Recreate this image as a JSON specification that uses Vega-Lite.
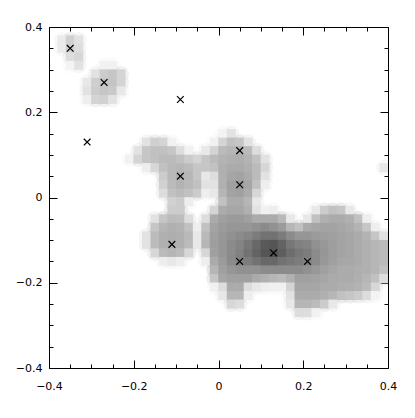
{
"$schema": "https://vega.github.io/schema/vega-lite/v6.json",
"width": 339, "height": 341,
"autosize": {"type": "none"},
"padding": {"left": 49, "top": 27, "right": 27, "bottom": 50},
"config": {
 "view": {"stroke": "#000", "strokeWidth": 1},
 "axis": {"domain": false, "grid": false, "title": null, "labelFont": "DejaVu Sans", "labelFontSize": 11, "labelColor": "#000", "tickColor": "#000", "tickWidth": 1, "labelFlush": false, "labelOverlap": false}
},
"datasets": {
 "density": [
{"x":-0.37,"y":0.37,"d":0.07},{"x":-0.35,"y":0.37,"d":0.16},{"x":-0.33,"y":0.37,"d":0.1},
{"x":-0.37,"y":0.35,"d":0.07},{"x":-0.35,"y":0.35,"d":0.17},{"x":-0.33,"y":0.35,"d":0.12},
{"x":-0.35,"y":0.33,"d":0.12},{"x":-0.33,"y":0.33,"d":0.14},
{"x":-0.35,"y":0.31,"d":0.04},{"x":-0.33,"y":0.31,"d":0.1},
{"x":-0.27,"y":0.31,"d":0.05},{"x":-0.25,"y":0.31,"d":0.05},
{"x":-0.29,"y":0.29,"d":0.1},{"x":-0.27,"y":0.29,"d":0.18},{"x":-0.25,"y":0.29,"d":0.2},{"x":-0.23,"y":0.29,"d":0.15},
{"x":-0.31,"y":0.27,"d":0.08},{"x":-0.29,"y":0.27,"d":0.17},{"x":-0.27,"y":0.27,"d":0.21},{"x":-0.25,"y":0.27,"d":0.21},{"x":-0.23,"y":0.27,"d":0.15},
{"x":-0.31,"y":0.25,"d":0.1},{"x":-0.29,"y":0.25,"d":0.18},{"x":-0.27,"y":0.25,"d":0.2},{"x":-0.25,"y":0.25,"d":0.19},{"x":-0.23,"y":0.25,"d":0.08},
{"x":-0.31,"y":0.23,"d":0.06},{"x":-0.29,"y":0.23,"d":0.15},{"x":-0.27,"y":0.23,"d":0.16},{"x":-0.25,"y":0.23,"d":0.1},
{"x":-0.17,"y":0.13,"d":0.1},{"x":-0.15,"y":0.13,"d":0.17},{"x":-0.13,"y":0.13,"d":0.15},{"x":-0.11,"y":0.13,"d":0.05},
{"x":-0.19,"y":0.11,"d":0.1},{"x":-0.17,"y":0.11,"d":0.2},{"x":-0.15,"y":0.11,"d":0.22},{"x":-0.13,"y":0.11,"d":0.22},{"x":-0.11,"y":0.11,"d":0.2},{"x":-0.09,"y":0.11,"d":0.12},{"x":-0.07,"y":0.11,"d":0.05},
{"x":-0.21,"y":0.09,"d":0.05},{"x":-0.19,"y":0.09,"d":0.15},{"x":-0.17,"y":0.09,"d":0.2},{"x":-0.15,"y":0.09,"d":0.22},{"x":-0.13,"y":0.09,"d":0.24},{"x":-0.11,"y":0.09,"d":0.24},{"x":-0.09,"y":0.09,"d":0.22},{"x":-0.07,"y":0.09,"d":0.18},{"x":-0.05,"y":0.09,"d":0.15},{"x":-0.03,"y":0.09,"d":0.2},
{"x":-0.17,"y":0.07,"d":0.06},{"x":-0.15,"y":0.07,"d":0.14},{"x":-0.13,"y":0.07,"d":0.22},{"x":-0.11,"y":0.07,"d":0.25},{"x":-0.09,"y":0.07,"d":0.26},{"x":-0.07,"y":0.07,"d":0.24},{"x":-0.05,"y":0.07,"d":0.2},{"x":-0.03,"y":0.07,"d":0.2},
{"x":-0.13,"y":0.05,"d":0.18},{"x":-0.11,"y":0.05,"d":0.25},{"x":-0.09,"y":0.05,"d":0.28},{"x":-0.07,"y":0.05,"d":0.26},{"x":-0.05,"y":0.05,"d":0.2},{"x":-0.03,"y":0.05,"d":0.08},
{"x":-0.13,"y":0.03,"d":0.16},{"x":-0.11,"y":0.03,"d":0.24},{"x":-0.09,"y":0.03,"d":0.27},{"x":-0.07,"y":0.03,"d":0.25},{"x":-0.05,"y":0.03,"d":0.22},{"x":-0.03,"y":0.03,"d":0.1},
{"x":-0.13,"y":0.01,"d":0.12},{"x":-0.11,"y":0.01,"d":0.22},{"x":-0.09,"y":0.01,"d":0.24},{"x":-0.07,"y":0.01,"d":0.22},{"x":-0.05,"y":0.01,"d":0.18},{"x":-0.03,"y":0.01,"d":0.06},
{"x":-0.11,"y":-0.01,"d":0.16},{"x":-0.09,"y":-0.01,"d":0.18},{"x":-0.07,"y":-0.01,"d":0.06},
{"x":-0.11,"y":-0.03,"d":0.18},{"x":-0.09,"y":-0.03,"d":0.18},
{"x":-0.15,"y":-0.05,"d":0.1},{"x":-0.13,"y":-0.05,"d":0.2},{"x":-0.11,"y":-0.05,"d":0.24},{"x":-0.09,"y":-0.05,"d":0.23},{"x":-0.07,"y":-0.05,"d":0.12},
{"x":-0.15,"y":-0.07,"d":0.2},{"x":-0.13,"y":-0.07,"d":0.26},{"x":-0.11,"y":-0.07,"d":0.28},{"x":-0.09,"y":-0.07,"d":0.27},{"x":-0.07,"y":-0.07,"d":0.22},{"x":-0.05,"y":-0.07,"d":0.06},
{"x":-0.17,"y":-0.09,"d":0.1},{"x":-0.15,"y":-0.09,"d":0.24},{"x":-0.13,"y":-0.09,"d":0.28},{"x":-0.11,"y":-0.09,"d":0.29},{"x":-0.09,"y":-0.09,"d":0.28},{"x":-0.07,"y":-0.09,"d":0.25},{"x":-0.05,"y":-0.09,"d":0.08},
{"x":-0.17,"y":-0.11,"d":0.1},{"x":-0.15,"y":-0.11,"d":0.24},{"x":-0.13,"y":-0.11,"d":0.28},{"x":-0.11,"y":-0.11,"d":0.29},{"x":-0.09,"y":-0.11,"d":0.28},{"x":-0.07,"y":-0.11,"d":0.24},{"x":-0.05,"y":-0.11,"d":0.08},
{"x":-0.15,"y":-0.13,"d":0.14},{"x":-0.13,"y":-0.13,"d":0.24},{"x":-0.11,"y":-0.13,"d":0.26},{"x":-0.09,"y":-0.13,"d":0.24},{"x":-0.07,"y":-0.13,"d":0.14},
{"x":-0.13,"y":-0.15,"d":0.06},{"x":-0.11,"y":-0.15,"d":0.08},{"x":-0.09,"y":-0.15,"d":0.06},
{"x":0.01,"y":0.15,"d":0.04},{"x":0.03,"y":0.15,"d":0.1},
{"x":-0.01,"y":0.13,"d":0.05},{"x":0.01,"y":0.13,"d":0.15},{"x":0.03,"y":0.13,"d":0.22},{"x":0.05,"y":0.13,"d":0.2},{"x":0.07,"y":0.13,"d":0.1},
{"x":-0.03,"y":0.11,"d":0.08},{"x":-0.01,"y":0.11,"d":0.15},{"x":0.01,"y":0.11,"d":0.24},{"x":0.03,"y":0.11,"d":0.26},{"x":0.05,"y":0.11,"d":0.27},{"x":0.07,"y":0.11,"d":0.24},{"x":0.09,"y":0.11,"d":0.12},
{"x":-0.01,"y":0.09,"d":0.24},{"x":0.01,"y":0.09,"d":0.27},{"x":0.03,"y":0.09,"d":0.28},{"x":0.05,"y":0.09,"d":0.29},{"x":0.07,"y":0.09,"d":0.27},{"x":0.09,"y":0.09,"d":0.22},{"x":0.11,"y":0.09,"d":0.1},
{"x":-0.01,"y":0.07,"d":0.22},{"x":0.01,"y":0.07,"d":0.28},{"x":0.03,"y":0.07,"d":0.3},{"x":0.05,"y":0.07,"d":0.3},{"x":0.07,"y":0.07,"d":0.28},{"x":0.09,"y":0.07,"d":0.24},{"x":0.11,"y":0.07,"d":0.14},
{"x":-0.01,"y":0.05,"d":0.12},{"x":0.01,"y":0.05,"d":0.28},{"x":0.03,"y":0.05,"d":0.32},{"x":0.05,"y":0.05,"d":0.33},{"x":0.07,"y":0.05,"d":0.3},{"x":0.09,"y":0.05,"d":0.24},{"x":0.11,"y":0.05,"d":0.1},
{"x":-0.01,"y":0.03,"d":0.1},{"x":0.01,"y":0.03,"d":0.28},{"x":0.03,"y":0.03,"d":0.34},{"x":0.05,"y":0.03,"d":0.36},{"x":0.07,"y":0.03,"d":0.32},{"x":0.09,"y":0.03,"d":0.22},{"x":0.11,"y":0.03,"d":0.06},
{"x":-0.01,"y":0.01,"d":0.08},{"x":0.01,"y":0.01,"d":0.26},{"x":0.03,"y":0.01,"d":0.33},{"x":0.05,"y":0.01,"d":0.34},{"x":0.07,"y":0.01,"d":0.3},{"x":0.09,"y":0.01,"d":0.14},
{"x":0.01,"y":-0.01,"d":0.22},{"x":0.03,"y":-0.01,"d":0.3},{"x":0.05,"y":-0.01,"d":0.3},{"x":0.07,"y":-0.01,"d":0.26},{"x":0.09,"y":-0.01,"d":0.08},
{"x":-0.01,"y":-0.03,"d":0.15},{"x":0.01,"y":-0.03,"d":0.3},{"x":0.03,"y":-0.03,"d":0.32},{"x":0.05,"y":-0.03,"d":0.32},{"x":0.07,"y":-0.03,"d":0.28},{"x":0.09,"y":-0.03,"d":0.1},{"x":0.11,"y":-0.03,"d":0.05},{"x":0.13,"y":-0.03,"d":0.06},{"x":0.23,"y":-0.03,"d":0.08},{"x":0.25,"y":-0.03,"d":0.18},{"x":0.27,"y":-0.03,"d":0.22},{"x":0.29,"y":-0.03,"d":0.2},{"x":0.31,"y":-0.03,"d":0.08},
{"x":-0.03,"y":-0.05,"d":0.12},{"x":-0.01,"y":-0.05,"d":0.3},{"x":0.01,"y":-0.05,"d":0.34},{"x":0.03,"y":-0.05,"d":0.36},{"x":0.05,"y":-0.05,"d":0.36},{"x":0.07,"y":-0.05,"d":0.34},{"x":0.09,"y":-0.05,"d":0.3},{"x":0.11,"y":-0.05,"d":0.3},{"x":0.13,"y":-0.05,"d":0.3},{"x":0.15,"y":-0.05,"d":0.25},{"x":0.17,"y":-0.05,"d":0.08},{"x":0.21,"y":-0.05,"d":0.08},{"x":0.23,"y":-0.05,"d":0.22},{"x":0.25,"y":-0.05,"d":0.28},{"x":0.27,"y":-0.05,"d":0.3},{"x":0.29,"y":-0.05,"d":0.3},{"x":0.31,"y":-0.05,"d":0.28},{"x":0.33,"y":-0.05,"d":0.22},{"x":0.35,"y":-0.05,"d":0.06},
{"x":-0.03,"y":-0.07,"d":0.22},{"x":-0.01,"y":-0.07,"d":0.33},{"x":0.01,"y":-0.07,"d":0.36},{"x":0.03,"y":-0.07,"d":0.38},{"x":0.05,"y":-0.07,"d":0.38},{"x":0.07,"y":-0.07,"d":0.38},{"x":0.09,"y":-0.07,"d":0.4},{"x":0.11,"y":-0.07,"d":0.42},{"x":0.13,"y":-0.07,"d":0.4},{"x":0.15,"y":-0.07,"d":0.36},{"x":0.17,"y":-0.07,"d":0.26},{"x":0.19,"y":-0.07,"d":0.22},{"x":0.21,"y":-0.07,"d":0.3},{"x":0.23,"y":-0.07,"d":0.32},{"x":0.25,"y":-0.07,"d":0.33},{"x":0.27,"y":-0.07,"d":0.33},{"x":0.29,"y":-0.07,"d":0.32},{"x":0.31,"y":-0.07,"d":0.3},{"x":0.33,"y":-0.07,"d":0.27},{"x":0.35,"y":-0.07,"d":0.2},{"x":0.37,"y":-0.07,"d":0.06},
{"x":-0.03,"y":-0.09,"d":0.25},{"x":-0.01,"y":-0.09,"d":0.34},{"x":0.01,"y":-0.09,"d":0.37},{"x":0.03,"y":-0.09,"d":0.4},{"x":0.05,"y":-0.09,"d":0.42},{"x":0.07,"y":-0.09,"d":0.44},{"x":0.09,"y":-0.09,"d":0.48},{"x":0.11,"y":-0.09,"d":0.52},{"x":0.13,"y":-0.09,"d":0.52},{"x":0.15,"y":-0.09,"d":0.48},{"x":0.17,"y":-0.09,"d":0.42},{"x":0.19,"y":-0.09,"d":0.38},{"x":0.21,"y":-0.09,"d":0.38},{"x":0.23,"y":-0.09,"d":0.36},{"x":0.25,"y":-0.09,"d":0.35},{"x":0.27,"y":-0.09,"d":0.34},{"x":0.29,"y":-0.09,"d":0.33},{"x":0.31,"y":-0.09,"d":0.32},{"x":0.33,"y":-0.09,"d":0.3},{"x":0.35,"y":-0.09,"d":0.27},{"x":0.37,"y":-0.09,"d":0.2},{"x":0.39,"y":-0.09,"d":0.1},
{"x":-0.03,"y":-0.11,"d":0.26},{"x":-0.01,"y":-0.11,"d":0.35},{"x":0.01,"y":-0.11,"d":0.38},{"x":0.03,"y":-0.11,"d":0.42},{"x":0.05,"y":-0.11,"d":0.45},{"x":0.07,"y":-0.11,"d":0.5},{"x":0.09,"y":-0.11,"d":0.56},{"x":0.11,"y":-0.11,"d":0.62},{"x":0.13,"y":-0.11,"d":0.64},{"x":0.15,"y":-0.11,"d":0.58},{"x":0.17,"y":-0.11,"d":0.5},{"x":0.19,"y":-0.11,"d":0.46},{"x":0.21,"y":-0.11,"d":0.45},{"x":0.23,"y":-0.11,"d":0.4},{"x":0.25,"y":-0.11,"d":0.37},{"x":0.27,"y":-0.11,"d":0.35},{"x":0.29,"y":-0.11,"d":0.33},{"x":0.31,"y":-0.11,"d":0.32},{"x":0.33,"y":-0.11,"d":0.3},{"x":0.35,"y":-0.11,"d":0.28},{"x":0.37,"y":-0.11,"d":0.26},{"x":0.39,"y":-0.11,"d":0.24},
{"x":-0.03,"y":-0.13,"d":0.14},{"x":-0.01,"y":-0.13,"d":0.34},{"x":0.01,"y":-0.13,"d":0.38},{"x":0.03,"y":-0.13,"d":0.42},{"x":0.05,"y":-0.13,"d":0.46},{"x":0.07,"y":-0.13,"d":0.52},{"x":0.09,"y":-0.13,"d":0.58},{"x":0.11,"y":-0.13,"d":0.64},{"x":0.13,"y":-0.13,"d":0.66},{"x":0.15,"y":-0.13,"d":0.6},{"x":0.17,"y":-0.13,"d":0.54},{"x":0.19,"y":-0.13,"d":0.5},{"x":0.21,"y":-0.13,"d":0.48},{"x":0.23,"y":-0.13,"d":0.42},{"x":0.25,"y":-0.13,"d":0.38},{"x":0.27,"y":-0.13,"d":0.35},{"x":0.29,"y":-0.13,"d":0.33},{"x":0.31,"y":-0.13,"d":0.32},{"x":0.33,"y":-0.13,"d":0.3},{"x":0.35,"y":-0.13,"d":0.28},{"x":0.37,"y":-0.13,"d":0.26},{"x":0.39,"y":-0.13,"d":0.24},
{"x":-0.03,"y":-0.15,"d":0.06},{"x":-0.01,"y":-0.15,"d":0.3},{"x":0.01,"y":-0.15,"d":0.36},{"x":0.03,"y":-0.15,"d":0.42},{"x":0.05,"y":-0.15,"d":0.46},{"x":0.07,"y":-0.15,"d":0.48},{"x":0.09,"y":-0.15,"d":0.52},{"x":0.11,"y":-0.15,"d":0.56},{"x":0.13,"y":-0.15,"d":0.56},{"x":0.15,"y":-0.15,"d":0.52},{"x":0.17,"y":-0.15,"d":0.5},{"x":0.19,"y":-0.15,"d":0.48},{"x":0.21,"y":-0.15,"d":0.46},{"x":0.23,"y":-0.15,"d":0.42},{"x":0.25,"y":-0.15,"d":0.37},{"x":0.27,"y":-0.15,"d":0.34},{"x":0.29,"y":-0.15,"d":0.32},{"x":0.31,"y":-0.15,"d":0.31},{"x":0.33,"y":-0.15,"d":0.3},{"x":0.35,"y":-0.15,"d":0.28},{"x":0.37,"y":-0.15,"d":0.26},{"x":0.39,"y":-0.15,"d":0.24},
{"x":-0.01,"y":-0.17,"d":0.26},{"x":0.01,"y":-0.17,"d":0.34},{"x":0.03,"y":-0.17,"d":0.38},{"x":0.05,"y":-0.17,"d":0.4},{"x":0.07,"y":-0.17,"d":0.4},{"x":0.09,"y":-0.17,"d":0.4},{"x":0.11,"y":-0.17,"d":0.42},{"x":0.13,"y":-0.17,"d":0.42},{"x":0.15,"y":-0.17,"d":0.42},{"x":0.17,"y":-0.17,"d":0.42},{"x":0.19,"y":-0.17,"d":0.42},{"x":0.21,"y":-0.17,"d":0.4},{"x":0.23,"y":-0.17,"d":0.37},{"x":0.25,"y":-0.17,"d":0.34},{"x":0.27,"y":-0.17,"d":0.32},{"x":0.29,"y":-0.17,"d":0.3},{"x":0.31,"y":-0.17,"d":0.3},{"x":0.33,"y":-0.17,"d":0.29},{"x":0.35,"y":-0.17,"d":0.28},{"x":0.37,"y":-0.17,"d":0.26},{"x":0.39,"y":-0.17,"d":0.22},
{"x":-0.01,"y":-0.19,"d":0.2},{"x":0.01,"y":-0.19,"d":0.32},{"x":0.03,"y":-0.19,"d":0.34},{"x":0.05,"y":-0.19,"d":0.34},{"x":0.07,"y":-0.19,"d":0.34},{"x":0.09,"y":-0.19,"d":0.3},{"x":0.11,"y":-0.19,"d":0.28},{"x":0.13,"y":-0.19,"d":0.26},{"x":0.15,"y":-0.19,"d":0.24},{"x":0.17,"y":-0.19,"d":0.28},{"x":0.19,"y":-0.19,"d":0.34},{"x":0.21,"y":-0.19,"d":0.34},{"x":0.23,"y":-0.19,"d":0.33},{"x":0.25,"y":-0.19,"d":0.32},{"x":0.27,"y":-0.19,"d":0.3},{"x":0.29,"y":-0.19,"d":0.3},{"x":0.31,"y":-0.19,"d":0.3},{"x":0.33,"y":-0.19,"d":0.28},{"x":0.35,"y":-0.19,"d":0.26},{"x":0.37,"y":-0.19,"d":0.22},{"x":0.39,"y":-0.19,"d":0.12},
{"x":-0.01,"y":-0.21,"d":0.05},{"x":0.01,"y":-0.21,"d":0.12},{"x":0.03,"y":-0.21,"d":0.3},{"x":0.05,"y":-0.21,"d":0.3},{"x":0.07,"y":-0.21,"d":0.12},{"x":0.09,"y":-0.21,"d":0.08},{"x":0.11,"y":-0.21,"d":0.06},{"x":0.13,"y":-0.21,"d":0.05},{"x":0.15,"y":-0.21,"d":0.05},{"x":0.17,"y":-0.21,"d":0.15},{"x":0.19,"y":-0.21,"d":0.32},{"x":0.21,"y":-0.21,"d":0.32},{"x":0.23,"y":-0.21,"d":0.32},{"x":0.25,"y":-0.21,"d":0.3},{"x":0.27,"y":-0.21,"d":0.3},{"x":0.29,"y":-0.21,"d":0.29},{"x":0.31,"y":-0.21,"d":0.28},{"x":0.33,"y":-0.21,"d":0.27},{"x":0.35,"y":-0.21,"d":0.24},{"x":0.37,"y":-0.21,"d":0.14},
{"x":0.01,"y":-0.23,"d":0.08},{"x":0.03,"y":-0.23,"d":0.26},{"x":0.05,"y":-0.23,"d":0.26},{"x":0.07,"y":-0.23,"d":0.06},{"x":0.17,"y":-0.23,"d":0.1},{"x":0.19,"y":-0.23,"d":0.3},{"x":0.21,"y":-0.23,"d":0.3},{"x":0.23,"y":-0.23,"d":0.3},{"x":0.25,"y":-0.23,"d":0.28},{"x":0.27,"y":-0.23,"d":0.26},{"x":0.29,"y":-0.23,"d":0.22},{"x":0.31,"y":-0.23,"d":0.2},{"x":0.33,"y":-0.23,"d":0.18},{"x":0.35,"y":-0.23,"d":0.12},{"x":0.37,"y":-0.23,"d":0.04},
{"x":0.03,"y":-0.25,"d":0.14},{"x":0.05,"y":-0.25,"d":0.12},{"x":0.17,"y":-0.25,"d":0.08},{"x":0.19,"y":-0.25,"d":0.26},{"x":0.21,"y":-0.25,"d":0.26},{"x":0.23,"y":-0.25,"d":0.24},{"x":0.25,"y":-0.25,"d":0.18},{"x":0.27,"y":-0.25,"d":0.08},
{"x":0.19,"y":-0.27,"d":0.12},{"x":0.21,"y":-0.27,"d":0.12},{"x":0.23,"y":-0.27,"d":0.05},
{"x":0.39,"y":0.07,"d":0.08}
 ],
 "points": [
{"x":-0.35,"y":0.35},{"x":-0.27,"y":0.27},{"x":-0.09,"y":0.23},{"x":-0.31,"y":0.13},{"x":-0.09,"y":0.05},{"x":0.05,"y":0.11},{"x":0.05,"y":0.03},{"x":-0.11,"y":-0.11},{"x":0.05,"y":-0.15},{"x":0.13,"y":-0.13},{"x":0.21,"y":-0.15}
 ]
},
"layer": [
 {
  "data": {"name": "density"},
  "mark": {"type": "circle", "size": 250, "opacity": 0.3, "strokeWidth": 0, "clip": true},
  "encoding": {
   "x": {"field": "x", "type": "quantitative", "scale": {"domain": [-0.4, 0.4], "nice": false, "zero": false},
         "axis": {"orient": "bottom", "values": [-0.4, -0.2, 0, 0.2, 0.4], "format": "~g", "tickSize": -8, "labelPadding": 20}},
   "y": {"field": "y", "type": "quantitative", "scale": {"domain": [-0.4, 0.4], "nice": false, "zero": false},
         "axis": {"orient": "left", "values": [-0.4, -0.2, 0, 0.2, 0.4], "format": "~g", "tickSize": -8, "labelPadding": 15}},
   "color": {"field": "d", "type": "quantitative", "scale": {"domain": [0, 1], "range": ["#ffffff", "#000000"]}, "legend": null}
  }
 },
 {
  "data": {"name": "density"},
  "mark": {"type": "square", "size": 80, "opacity": 1, "strokeWidth": 0, "clip": true},
  "encoding": {
   "x": {"field": "x", "type": "quantitative", "axis": null},
   "y": {"field": "y", "type": "quantitative", "axis": null},
   "color": {"field": "d", "type": "quantitative", "scale": {"domain": [0, 1], "range": ["#ffffff", "#000000"]}, "legend": null}
  }
 },
 {
  "data": {"name": "points"},
  "mark": {"type": "point", "shape": "M-1,-1L1,1M-1,1L1,-1", "size": 45, "filled": false, "stroke": "#000", "strokeWidth": 1.2, "opacity": 1},
  "encoding": {
   "x": {"field": "x", "type": "quantitative", "axis": {"orient": "bottom", "values": [-0.35,-0.3,-0.25,-0.15,-0.1,-0.05,0.05,0.1,0.15,0.25,0.3,0.35], "labels": false, "tickSize": -4}},
   "y": {"field": "y", "type": "quantitative", "axis": {"orient": "left", "values": [-0.35,-0.3,-0.25,-0.15,-0.1,-0.05,0.05,0.1,0.15,0.25,0.3,0.35], "labels": false, "tickSize": -4}}
  }
 },
 {
  "data": {"name": "points"},
  "mark": {"type": "point", "opacity": 0},
  "encoding": {
   "x": {"field": "x", "type": "quantitative", "axis": {"orient": "top", "values": [-0.4, -0.2, 0, 0.2, 0.4], "labels": false, "tickSize": -8}},
   "y": {"field": "y", "type": "quantitative", "axis": {"orient": "right", "values": [-0.4, -0.2, 0, 0.2, 0.4], "labels": false, "tickSize": -8}}
  }
 },
 {
  "data": {"name": "points"},
  "mark": {"type": "point", "opacity": 0},
  "encoding": {
   "x": {"field": "x", "type": "quantitative", "axis": {"orient": "top", "values": [-0.35,-0.3,-0.25,-0.15,-0.1,-0.05,0.05,0.1,0.15,0.25,0.3,0.35], "labels": false, "tickSize": -4}},
   "y": {"field": "y", "type": "quantitative", "axis": {"orient": "right", "values": [-0.35,-0.3,-0.25,-0.15,-0.1,-0.05,0.05,0.1,0.15,0.25,0.3,0.35], "labels": false, "tickSize": -4}}
  }
 }
],
"resolve": {"axis": {"x": "independent", "y": "independent"}}
}
